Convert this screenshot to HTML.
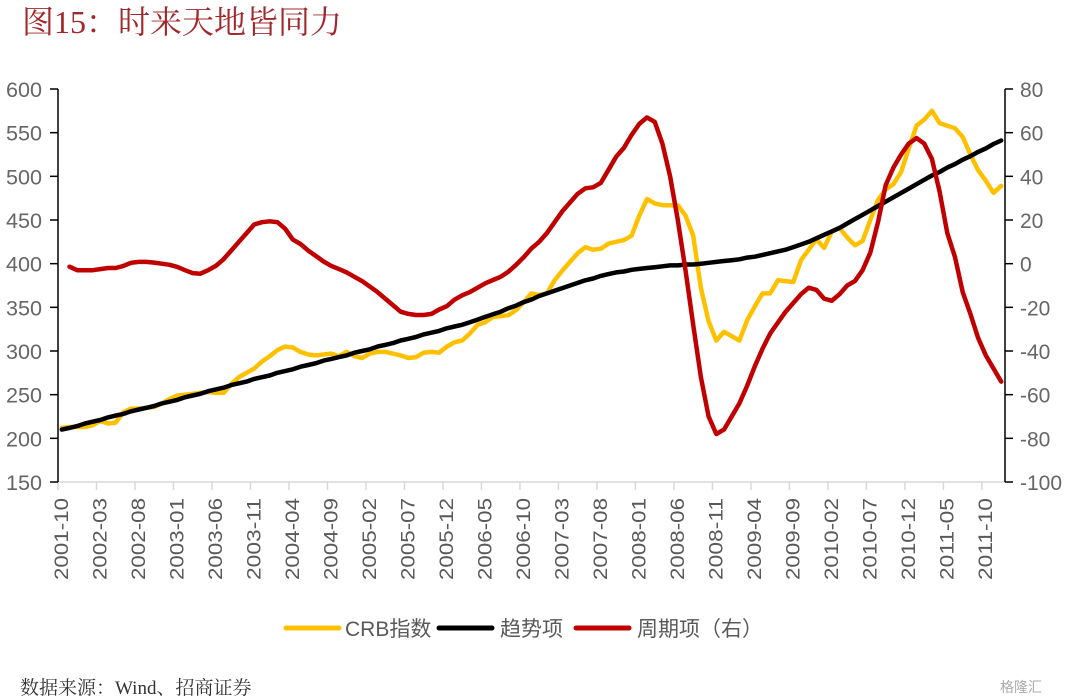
<!DOCTYPE html>
<html><head><meta charset="utf-8"><style>
html,body{margin:0;padding:0;background:#fff;width:1080px;height:700px;overflow:hidden}
svg{display:block}
</style></head><body>
<svg id="chart" width="1080" height="700" xmlns="http://www.w3.org/2000/svg">
<text x="22" y="33" font-family="'Liberation Serif','Noto Serif CJK SC',serif" font-size="32" fill="#a0282a">图15：时来天地皆同力</text>
<g id="axes"></g>
<g id="series"></g>
<g font-family="'Liberation Sans','Noto Sans CJK SC',sans-serif" font-size="21" fill="#595959">
<line x1="286" y1="628" x2="339" y2="628" stroke="#FFC000" stroke-width="5" stroke-linecap="round"/>
<text x="345" y="636">CRB指数</text>
<line x1="439" y1="628" x2="492" y2="628" stroke="#000" stroke-width="5" stroke-linecap="round"/>
<text x="500" y="636">趋势项</text>
<line x1="576" y1="628" x2="629" y2="628" stroke="#C00000" stroke-width="5" stroke-linecap="round"/>
<text x="637" y="636">周期项（右）</text>
</g>
<text x="20" y="694" font-family="'Liberation Serif','Noto Serif CJK SC',serif" font-size="19" fill="#333">数据来源：Wind、招商证券</text>
<text x="1000" y="692" font-family="'Liberation Sans','Noto Sans CJK SC',sans-serif" font-size="14" fill="#aaa">格隆汇</text>
</svg>
<script>
const crbValues=[212,213,213,213,215,220,217,218,230,234,234,235,236,240,245,249,250,251,252,253,252,252,262,270,275,280,288,294,301,305,304,299,296,295,296,297,294,299,294,292,297,299,299,297,295,292,293,298,299,298,305,310,312,320,330,333,339,340,341,347,356,366,364,366,381,392,402,412,419,416,417,423,425,427,432,455,474,469,467,467,467,455,432,372,334,312,322,317,312,335,351,366,366,381,380,379,404,416,428,418,437,441,430,421,426,450,473,485,491,505,532,558,565,575,561,558,555,545,525,507,495,481,489];
const trendValues=[210,212,214,217,219,221,224,226,228,231,233,235,237,240,242,244,247,249,251,254,256,258,261,263,265,268,270,272,275,277,279,282,284,286,289,291,293,295,298,300,302,305,307,309,312,314,316,319,321,323,326,328,330,333,336,339,342,345,349,352,356,359,363,366,369,372,375,378,381,383,386,388,390,391,393,394,395,396,397,398,398,399,399,400,401,402,403,404,405,407,408,410,412,414,416,419,422,425,429,433,437,441,446,451,456,461,466,471,476,481,486,491,496,501,505,510,514,519,523,528,532,537,541];
const cycleValues=[null,-1.4,-3,-3,-3,-2.5,-2,-2,-1,0.4,0.8,0.8,0.5,0,-0.5,-1.5,-3,-4.3,-4.6,-3,-1,2,6,10,14,18,19,19.4,19,16,11,9,6,3.5,1,-1,-2.5,-4,-6,-8,-10.5,-13,-16,-19,-22,-23,-23.5,-23.5,-23,-21,-19.5,-16.5,-14.5,-13,-11,-9,-7.5,-6,-3.7,-0.5,3,7,10,14,19,24,28,32,34.5,35,37,43,49,53,59,64,67,65,55,40,20,-3,-28,-52,-70,-78,-76,-70,-64,-56,-47,-39,-32,-27,-22,-18,-14,-11,-12,-16,-17,-14,-10,-8,-3,5,19,36,44,50,55,57.5,55,48,33,14,3,-13,-23,-34,-42,-48,-54];
const leftTicks=[150,200,250,300,350,400,450,500,550,600];
const rightTicks=[-100,-80,-60,-40,-20,0,20,40,60,80];
const startYear=2001,startMonth=10;

const NS='http://www.w3.org/2000/svg';
const L=58,R=1005,T=89,B=482;
const N=crbValues.length;
const bw=(R-L)/N;
const xs=i=>L+(i+0.5)*bw;
const yl=v=>B-(v-150)/450*(B-T);
const yr=v=>B-(v+100)/180*(B-T);
function mk(tag,attrs,parent){const e=document.createElementNS(NS,tag);for(const k in attrs)e.setAttribute(k,attrs[k]);parent.appendChild(e);return e;}
const axes=document.getElementById('axes');
const ser=document.getElementById('series');
const FF="'Liberation Sans','Noto Sans CJK SC',sans-serif";
let bl=mk('line',{x1:L,y1:B,x2:R,y2:B,stroke:'#d9d9d9','stroke-width':1.5},axes);


for(let i=0;i<N;i+=5){
  const tx=L+i*bw;
  let t=mk('line',{x1:tx,y1:B,x2:tx,y2:B+8,stroke:'#d9d9d9','stroke-width':1.5},axes);
  
  
  const m=(startMonth-1+i)%12+1, y=startYear+Math.floor((startMonth-1+i)/12);
  const lab=y+'-'+(m<10?'0'+m:m);
  const cx=xs(i)+6;
  let tt=mk('text',{x:0,y:0,transform:`translate(${cx},580) rotate(-90)`,'font-family':FF,'font-size':19,fill:'#595959',textLength:82,lengthAdjust:'spacingAndGlyphs'},axes);
  tt.textContent=lab;
  
  
}
let la=mk('line',{x1:L,y1:T,x2:L,y2:B,stroke:'#000','stroke-width':1.5},axes);


leftTicks.forEach(v=>{
  const y=yl(v);
  let t=mk('line',{x1:L-8,y1:y,x2:L,y2:y,stroke:'#000','stroke-width':1.5},axes);
  
  
  let tx=mk('text',{x:42,y:y+8,'text-anchor':'end','font-family':FF,'font-size':21,fill:'#666',textLength:36,lengthAdjust:'spacingAndGlyphs'},axes);
  tx.textContent=v;
  
  
});
let ra=mk('line',{x1:R,y1:T,x2:R,y2:B,stroke:'#000','stroke-width':1.5},axes);


rightTicks.forEach(v=>{
  const y=yr(v);
  let t=mk('line',{x1:R,y1:y,x2:R+8,y2:y,stroke:'#000','stroke-width':1.5},axes);
  
  
  let tx=mk('text',{x:1020,y:y+8,'font-family':FF,'font-size':21,fill:'#666'},axes);
  tx.textContent=v;
  
  
});
function path(vals,yf,color,name){
  let d='',pen=false;
  vals.forEach((v,i)=>{if(v==null){pen=false;return;}d+=(pen?'L':'M')+xs(i).toFixed(1)+','+yf(v).toFixed(1);pen=true;});
  const p=mk('path',{d:d,fill:'none',stroke:color,'stroke-width':4.5,'stroke-linejoin':'round','stroke-linecap':'round'},ser);
  
  
}
path(crbValues,yl,'#FFC000','crb-index-line');
path(trendValues,yl,'#000000','trend-line');
path(cycleValues,yr,'#C00000','cycle-line');
</script>
</body></html>
